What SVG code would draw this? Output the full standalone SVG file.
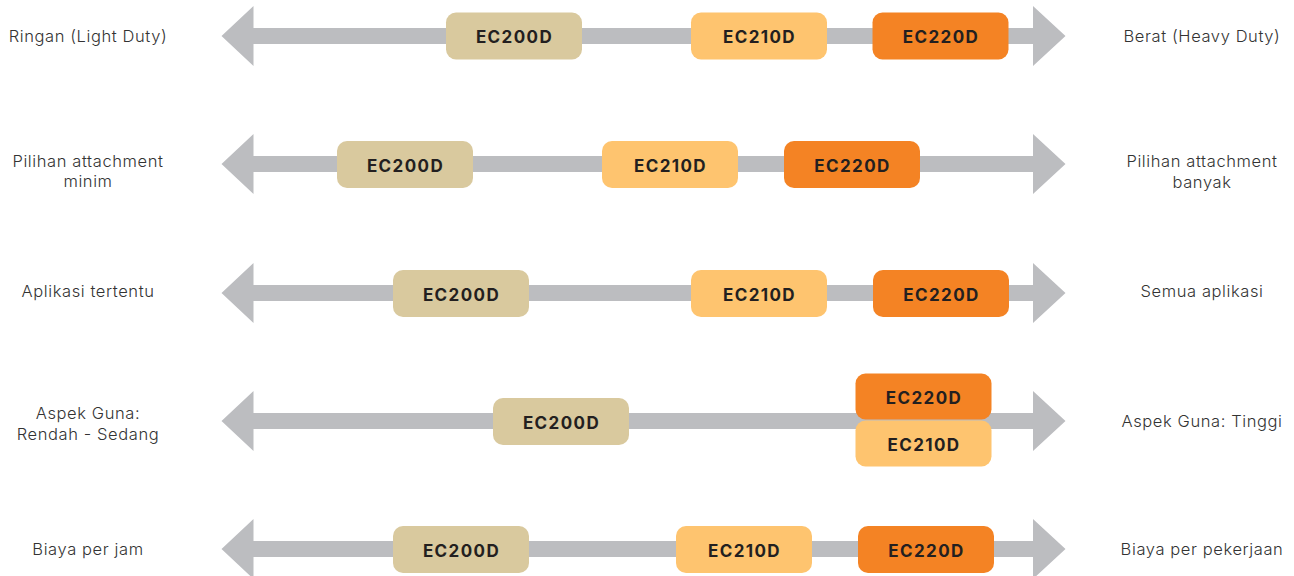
<svg xmlns="http://www.w3.org/2000/svg" width="1294" height="576" viewBox="0 0 1294 576">
<style>
.ax{fill:#BCBDC0}
.b{rx:10;ry:10}
.t0{fill:#D9C99E}
.t1{fill:#FEC46F}
.t2{fill:#F48324}
.bt{font-family:Inter,"Liberation Sans",sans-serif;font-weight:700;font-size:17px;letter-spacing:1.4px;fill:#231F20;text-anchor:middle;dominant-baseline:central}
.lb{font-family:Inter,"Liberation Sans",sans-serif;font-weight:300;font-size:16.5px;letter-spacing:0.6px;fill:#333;text-anchor:middle;dominant-baseline:central}
</style>
<defs>
<path id="arr" d="M221.5,0 L253.5,-30 L253.5,-8 L1033,-8 L1033,-30 L1065.5,0 L1033,30 L1033,8 L253.5,8 L253.5,30 Z"/>
</defs>
<g id="connectors">
<use href="#arr" class="ax" transform="translate(0,36)"/>
<use href="#arr" class="ax" transform="translate(0,164)"/>
<use href="#arr" class="ax" transform="translate(0,293)"/>
<use href="#arr" class="ax" transform="translate(0,421)"/>
<use href="#arr" class="ax" transform="translate(0,549)"/>
</g>
<g id="labels">
<text class="lb" x="88" y="36">Ringan (Light Duty)</text>
<text class="lb" x="1202" y="36">Berat (Heavy Duty)</text>
<text class="lb" x="88" y="161">Pilihan attachment</text>
<text class="lb" x="88" y="181">minim</text>
<text class="lb" x="1202" y="161">Pilihan attachment</text>
<text class="lb" x="1202" y="182">banyak</text>
<text class="lb" x="88" y="291">Aplikasi tertentu</text>
<text class="lb" x="1202" y="291">Semua aplikasi</text>
<text class="lb" x="88" y="413">Aspek Guna:</text>
<text class="lb" x="88" y="434">Rendah - Sedang</text>
<text class="lb" x="1202" y="421">Aspek Guna: Tinggi</text>
<text class="lb" x="88" y="549">Biaya per jam</text>
<text class="lb" x="1202" y="549">Biaya per pekerjaan</text>
</g>
<g id="r1-ec200d"><rect class="b t0" x="446" y="12.5" width="136" height="47"/><text class="bt" x="514.5" y="37">EC200D</text></g>
<g id="r1-ec210d"><rect class="b t1" x="691" y="12.5" width="136" height="47"/><text class="bt" x="759.5" y="37">EC210D</text></g>
<g id="r1-ec220d"><rect class="b t2" x="872.5" y="12.5" width="136" height="47"/><text class="bt" x="941" y="37">EC220D</text></g>
<g id="r2-ec200d"><rect class="b t0" x="337" y="141" width="136" height="47"/><text class="bt" x="405.5" y="165.5">EC200D</text></g>
<g id="r2-ec210d"><rect class="b t1" x="602" y="141" width="136" height="47"/><text class="bt" x="670.5" y="165.5">EC210D</text></g>
<g id="r2-ec220d"><rect class="b t2" x="784" y="141" width="136" height="47"/><text class="bt" x="852.5" y="165.5">EC220D</text></g>
<g id="r3-ec200d"><rect class="b t0" x="393" y="270" width="136" height="47"/><text class="bt" x="461.5" y="294.5">EC200D</text></g>
<g id="r3-ec210d"><rect class="b t1" x="691" y="270" width="136" height="47"/><text class="bt" x="759.5" y="294.5">EC210D</text></g>
<g id="r3-ec220d"><rect class="b t2" x="873" y="270" width="136" height="47"/><text class="bt" x="941.5" y="294.5">EC220D</text></g>
<g id="r4-ec200d"><rect class="b t0" x="493" y="398" width="136" height="47"/><text class="bt" x="561.5" y="422.5">EC200D</text></g>
<g id="r4-ec210d"><rect class="b t1" x="855.5" y="420.5" width="136" height="46"/><text class="bt" x="924" y="445">EC210D</text></g>
<g id="r4-ec220d"><rect class="b t2" x="855.5" y="373.5" width="136" height="46"/><text class="bt" x="924" y="398">EC220D</text></g>
<g id="r5-ec200d"><rect class="b t0" x="393" y="526" width="136" height="47"/><text class="bt" x="461.5" y="550.5">EC200D</text></g>
<g id="r5-ec210d"><rect class="b t1" x="676" y="526" width="136" height="47"/><text class="bt" x="744.5" y="550.5">EC210D</text></g>
<g id="r5-ec220d"><rect class="b t2" x="858" y="526" width="136" height="47"/><text class="bt" x="926.5" y="550.5">EC220D</text></g>
</svg>
